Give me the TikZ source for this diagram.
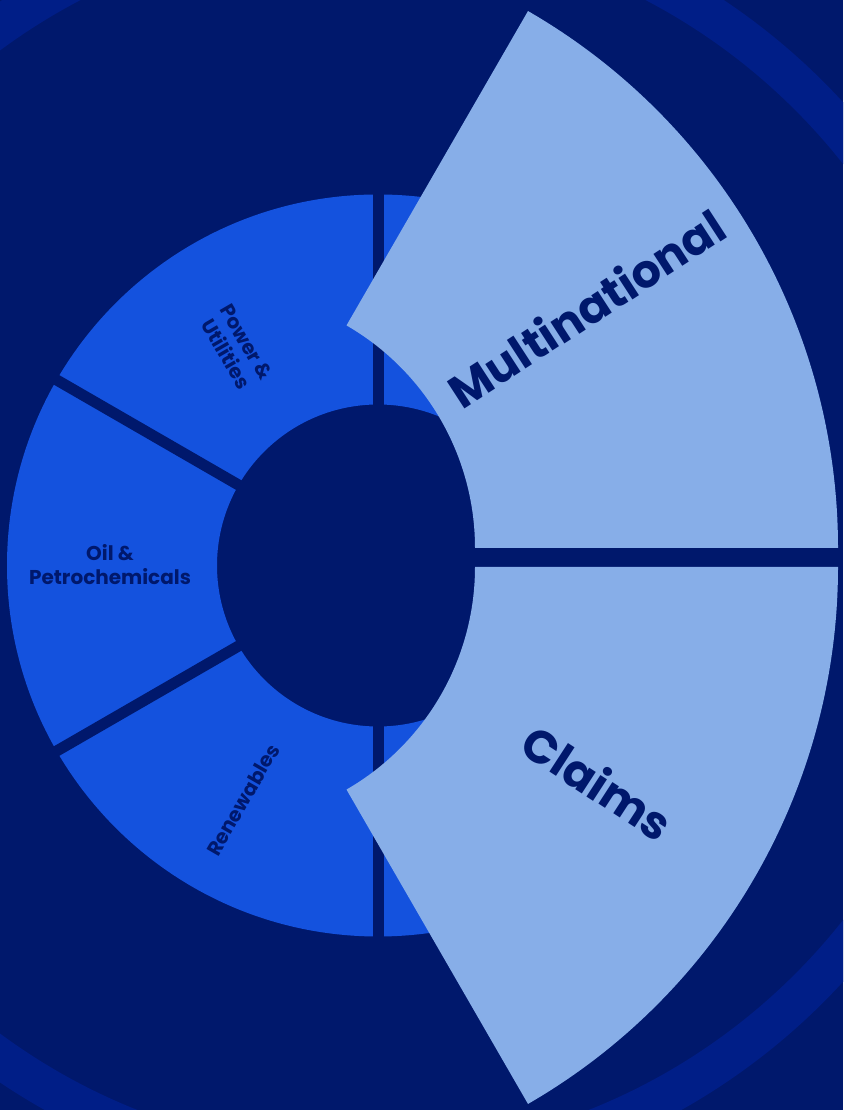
\documentclass[tikz,border=0pt]{standalone}
\usepackage{fontspec}
\setmainfont{Poppins}
\usetikzlibrary{calc}
\definecolor{navy}{HTML}{00186C}
\definecolor{bandblue}{HTML}{001E87}
\definecolor{ringblue}{HTML}{1452DE}
\definecolor{paleblue}{HTML}{87AEE8}
\tikzset{
  seglabel/.style={text=navy, font=\bfseries\fontsize{20}{24}\selectfont, align=center, inner sep=0pt},
  biglabel/.style={text=navy, font=\bfseries\fontsize{46}{50}\selectfont, inner sep=0pt},
  divider/.style={navy, line width=11pt},
}
\begin{document}
\begin{tikzpicture}[x=1pt,y=1pt]
	% background
	\fill[navy] (0,0) rectangle (843,1110);
	\useasboundingbox (0,0) rectangle (843,1110);
	\begin{scope}
		\clip (0,0) rectangle (843,1110);
		\fill[bandblue, even odd rule] (363,568) circle (651) (363,568) circle (611);
	\end{scope}
	% ring
	\coordinate (c) at (378,544.5);
	\fill[ringblue, even odd rule] (c) circle (371) (c) circle (161);
	\foreach \a in {90,150,210,270}
		\draw[divider] ($(c)+(\a:150)$) -- ($(c)+(\a:385)$);
	% pulled-out segments
	\fill[navy] (470,543) rectangle (843,562);
	\fill[paleblue, shift={(218,562)}] (0:257) -- (0:620) arc[start angle=0, end angle=60, radius=620]
		-- (60:257) arc[start angle=60, end angle=0, radius=257] -- cycle;
	\fill[paleblue, shift={(218,543)}] (0:257) -- (0:620) arc[start angle=0, end angle=-60, radius=620]
		-- (-60:257) arc[start angle=-60, end angle=0, radius=257] -- cycle;
	% labels
	\node[biglabel, rotate=33] (multi) at (586,802) {Multinational};
	\node[biglabel, rotate=-33] (claims) at (598,328) {Claims};
	\node[seglabel, rotate=-60] (power) at (236,762) {Power \&\\Utilities};
	\node[seglabel] (oil) at (110,545) {Oil \&\\Petrochemicals};
	\node[seglabel, rotate=60] (renew) at (243,310) {Renewables};
\end{tikzpicture}
\end{document}
